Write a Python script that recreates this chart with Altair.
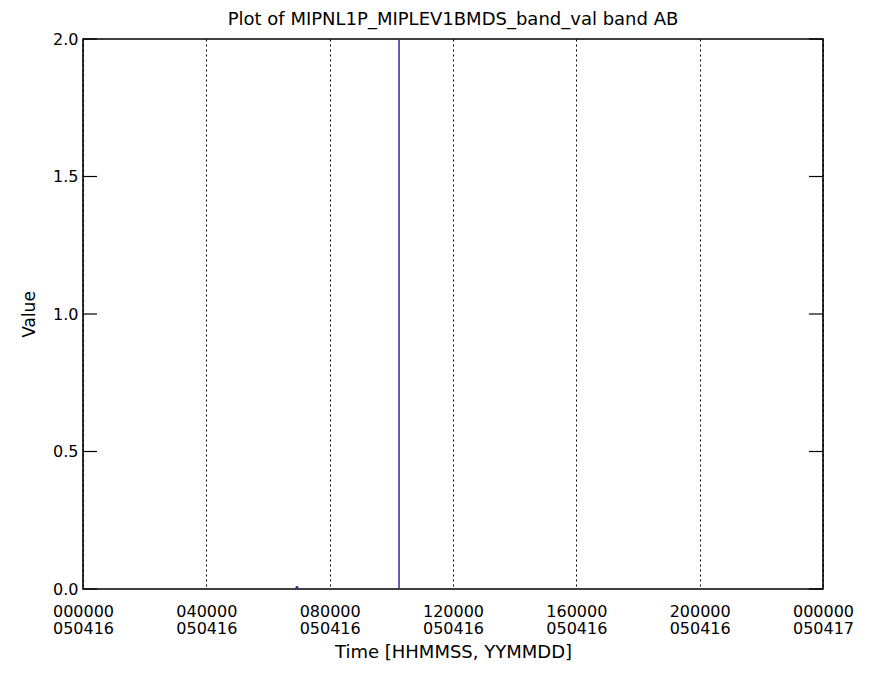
import altair as alt
import pandas as pd

# Data
spike_hours = [10.25, 10.25]
spike_values = [0.0, 2.0]
dot_hours = [6.94]
dot_values = [0.006]

tick_hours = [0, 4, 8, 12, 16, 20, 24]
time_labels = ["000000", "040000", "080000", "120000", "160000", "200000", "000000"]
date_labels = ["050416", "050416", "050416", "050416", "050416", "050416", "050417"]
y_ticks = [0.0, 0.5, 1.0, 1.5, 2.0]

W, H = 740, 550
FONT = "DejaVu Sans"
BLUE = "#2e2e9c"

spike = pd.DataFrame({"t": spike_hours, "v": spike_values})
dots = pd.DataFrame({"t": dot_hours, "v": dot_values})
yt = pd.DataFrame({"v": y_ticks})

expr = "''"
for h, a, b in reversed(list(zip(tick_hours, time_labels, date_labels))):
    expr = f"datum.value == {h} ? ['{a}', '{b}'] : ({expr})"

xscale = alt.Scale(domain=[0, 24], nice=False, zero=False)
yscale = alt.Scale(domain=[0, 2], nice=False)

xaxis = alt.Axis(
    values=tick_hours, labelExpr=expr, grid=True, gridColor="black",
    gridDash=[2, 3], gridWidth=1, ticks=False, domain=False,
    labelFont=FONT, labelFontSize=16, labelColor="black",
    labelLineHeight=17, labelBaseline="top", labelPadding=14,
    labelFlush=False, labelOverlap=False,
    title="Time [HHMMSS, YYMMDD]", titleFont=FONT, titleFontSize=18,
    titleFontWeight="normal", titleColor="black", titlePadding=7,
)
yaxis = alt.Axis(
    values=y_ticks, format=".1f", grid=False, ticks=False, domain=False,
    labelFont=FONT, labelFontSize=16, labelColor="black", labelPadding=5,
    labelFlush=False, labelOverlap=False,
    title="Value", titleFont=FONT, titleFontSize=17, titleFontWeight="normal",
    titleColor="black", titlePadding=14,
)

line = alt.Chart(spike).mark_line(color=BLUE, strokeWidth=1.5, clip=True).encode(
    x=alt.X("t:Q", scale=xscale, axis=xaxis),
    y=alt.Y("v:Q", scale=yscale, axis=yaxis),
)
pts = alt.Chart(dots).mark_point(color=BLUE, filled=True, size=8, opacity=1).encode(
    x=alt.X("t:Q", scale=xscale),
    y=alt.Y("v:Q", scale=yscale),
)
ticks_left = alt.Chart(yt).mark_rule(color="black", strokeWidth=1.2).encode(
    y=alt.Y("v:Q", scale=yscale),
    x=alt.value(0), x2=alt.value(14),
)
ticks_right = alt.Chart(yt).mark_rule(color="black", strokeWidth=1.2).encode(
    y=alt.Y("v:Q", scale=yscale),
    x=alt.value(W - 14), x2=alt.value(W),
)

chart = alt.layer(line, pts, ticks_left, ticks_right).properties(
    width=W, height=H,
    title=alt.TitleParams(
        "Plot of MIPNL1P_MIPLEV1BMDS_band_val band AB",
        font=FONT, fontSize=18, fontWeight="normal", color="black",
        anchor="middle", offset=2,
    ),
    autosize=alt.AutoSizeParams(type="none"),
    padding={"left": 75, "top": 31, "right": 40, "bottom": 84},
).configure(
    background="white"
).configure_view(
    stroke="black", strokeWidth=1.6
)

chart.save("out.html", embed_options={"renderer": "svg", "actions": False})
